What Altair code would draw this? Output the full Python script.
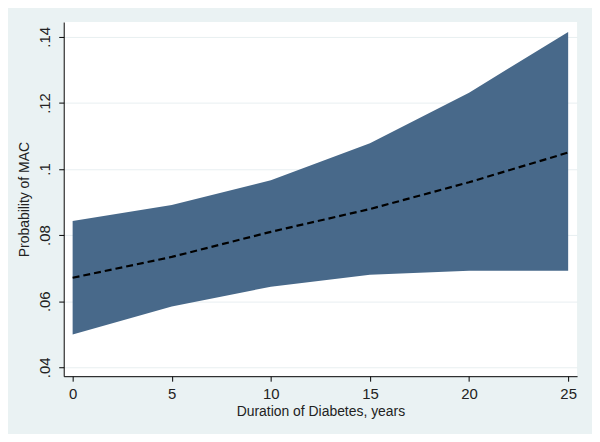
import altair as alt
import pandas as pd

duration = [0, 5, 10, 15, 20, 25]
prob = [0.0671, 0.0734, 0.0810, 0.0879, 0.0960, 0.1050]
lower = [0.0499, 0.0584, 0.0644, 0.0680, 0.0692, 0.0692]
upper = [0.0843, 0.0891, 0.0966, 0.1078, 0.1231, 0.1415]
y_ticks = [0.04, 0.06, 0.08, 0.10, 0.12, 0.14]
x_ticks = [0, 5, 10, 15, 20, 25]

df = pd.DataFrame({"duration": duration, "prob": prob, "lower": lower, "upper": upper})

font = "Liberation Sans"
xscale = alt.Scale(domain=[-0.45, 25.45], nice=False, zero=False)
yscale = alt.Scale(domain=[0.0373, 0.1445], nice=False, zero=False)

xaxis = alt.Axis(
    title="Duration of Diabetes, years", values=x_ticks, grid=False,
    domainColor="#000000", tickColor="#000000", tickSize=5, labelPadding=5,
    labelFontSize=15, titleFontSize=14, titleFontWeight="normal", titlePadding=4,
    labelColor="#222222", titleColor="#222222", labelFont=font, titleFont=font,
)
yaxis = alt.Axis(
    title="Probability of MAC", values=y_ticks, grid=True, gridColor="#E8EFF1",
    domainColor="#000000", tickColor="#000000", tickSize=5, labelPadding=6,
    labelAngle=270, labelAlign="center", labelBaseline="bottom",
    labelExpr="substring(format(datum.value, '.2~f'), 1)",
    labelFontSize=15, titleFontSize=14, titleFontWeight="normal", titlePadding=6,
    labelColor="#222222", titleColor="#222222", labelFont=font, titleFont=font,
)

band = alt.Chart(df).mark_area(color="#48698A", opacity=1).encode(
    x=alt.X("duration:Q", scale=xscale, axis=xaxis),
    y=alt.Y("lower:Q", scale=yscale, axis=yaxis),
    y2="upper:Q",
)
line = alt.Chart(df).mark_line(color="#000000", strokeWidth=2.2, strokeDash=[7, 4]).encode(
    x=alt.X("duration:Q", scale=xscale),
    y=alt.Y("prob:Q", scale=yscale),
)

chart = alt.layer(band, line).properties(
    width=516, height=356,
    autosize=alt.AutoSizeParams(type="none"),
    padding={"left": 56, "top": 13, "right": 15, "bottom": 57},
    background="#EAF2F3",
).configure_view(fill="#FFFFFF", stroke=None)

chart.save("out.html", embed_options={"renderer": "svg", "actions": False})
